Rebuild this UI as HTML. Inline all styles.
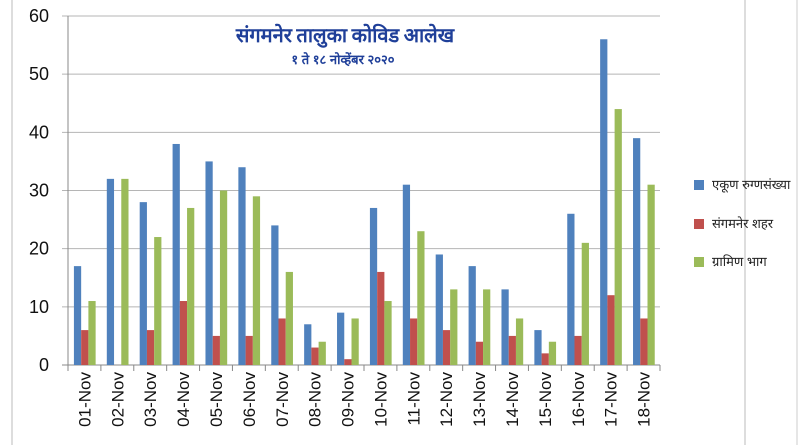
<!DOCTYPE html>
<html><head><meta charset="utf-8"><style>
body{margin:0;background:#fff;width:800px;height:445px;overflow:hidden}
svg{display:block;font-family:"Liberation Sans",sans-serif}
</style></head><body>
<svg id="c" width="800" height="445">
<rect x="12" y="-2" width="733" height="450" fill="#fff" stroke="#bbb"/>
<line x1="797" y1="0" x2="797" y2="445" stroke="#ccc"/>
<g id="grid"></g><g id="bars"></g><g id="xl"></g>
<text x="345" y="42" text-anchor="middle" font-family="'Noto Sans CJK SC','Liberation Sans',sans-serif" font-size="20" font-weight="bold" fill="#1f3f99">संगमनेर तालुका कोविड आलेख</text>
<text x="343" y="64" text-anchor="middle" font-size="13" font-weight="bold" fill="#1f3f99">१ ते १८ नोव्हेंबर २०२०</text>
<g font-size="13" fill="#222">
<rect x="694" y="180" width="10" height="10" fill="#4f81bd"/>
<text x="712" y="189">एकूण रुग्णसंख्या</text>
<rect x="694" y="219" width="10" height="10" fill="#c0504d"/>
<text x="712" y="228">संगमनेर शहर</text>
<rect x="694" y="257" width="10" height="10" fill="#9bbb59"/>
<text x="712" y="266">ग्रामिण भाग</text>
</g>
</svg>
<script>
const categories=["01-Nov","02-Nov","03-Nov","04-Nov","05-Nov","06-Nov","07-Nov","08-Nov","09-Nov","10-Nov","11-Nov","12-Nov","13-Nov","14-Nov","15-Nov","16-Nov","17-Nov","18-Nov"];
const total=[17,32,28,38,35,34,24,7,9,27,31,19,17,13,6,26,56,39];
const city=[6,0,6,11,5,5,8,3,1,16,8,6,4,5,2,5,12,8];
const rural=[11,32,22,27,30,29,16,4,8,11,23,13,13,8,4,21,44,31];
const yTicks=[0,10,20,30,40,50,60];
const NS="http://www.w3.org/2000/svg";
const x0=68,x1=660,y0=365,y1=16,ymax=60;
const bw=(x1-x0)/categories.length;
const y=v=>y0-(v/ymax)*(y0-y1);
function mk(t,a,p){const e=document.createElementNS(NS,t);for(const k in a)e.setAttribute(k,a[k]);p.appendChild(e);return e;}
const g=document.getElementById('grid');
yTicks.forEach(v=>{
 const l=mk('line',{x1:x0-6,x2:x1,y1:y(v),y2:y(v),stroke:v?'#b5b5b5':'#888'},g);
 
 
 const t=mk('text',{x:49,y:y(v)+6,'text-anchor':'end','font-size':18,fill:'#111'},g);
 t.textContent=v;
 
 
});
mk('line',{x1:x0,x2:x0,y1:y1,y2:y0,stroke:'#888'},g);
const b=document.getElementById('bars'),xl=document.getElementById('xl');
const series=[[total,'#4f81bd','total'],[city,'#c0504d','city'],[rural,'#9bbb59','rural']];
categories.forEach((c,i)=>{
 const cx=x0+bw*i;
 mk('line',{x1:cx,x2:cx,y1:y0,y2:y0+6,stroke:'#888'},g);
 series.forEach((s,j)=>{
  const v=s[0][i];
  const r=mk('rect',{x:cx+bw*0.18+j*bw*0.22,y:y(v),width:bw*0.22,height:y0-y(v),fill:s[1]},b);
  
  
 });
 const t=mk('text',{transform:`translate(${cx+bw/2+6},372) rotate(-90)`,'text-anchor':'end','font-size':17,fill:'#111'},xl);
 t.textContent=c;
 
 
});
mk('line',{x1:x1,x2:x1,y1:y0,y2:y0+6,stroke:'#888'},g);
</script>
</body></html>
